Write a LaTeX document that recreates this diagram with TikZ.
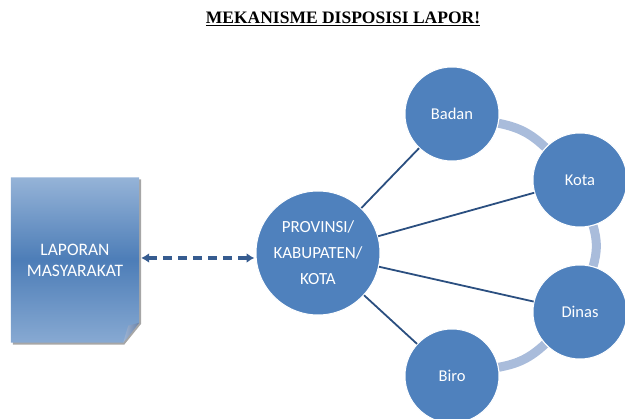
\documentclass[tikz,border=0pt]{standalone}
\usepackage{fontspec}
\setmainfont{Liberation Serif}
\setsansfont{Carlito}
\usepackage{tikz}
\usetikzlibrary{arrows.meta,backgrounds}
\definecolor{bulat}{HTML}{4F81BD}
\definecolor{garis}{HTML}{2B4F80}
\definecolor{cincin}{HTML}{A9BCDB}
\definecolor{panah}{HTML}{365C90}
\definecolor{lipat}{HTML}{7E9BC6}
\tikzset{
  unit/.style={circle, fill=bulat, draw=white, line width=1pt, minimum size=94pt,
    inner sep=0pt, text=white, font=\sffamily\fontsize{16.5}{19}\selectfont},
  hubung/.style={draw=garis, line width=1.8pt},
  cincinan/.style={draw=cincin, line width=9pt}
}

\begin{document}
\begin{tikzpicture}[x=1pt, y=-1pt]
\useasboundingbox (0,0) rectangle (625,419);
\node (judul) at (343,19) {\fontsize{17.5}{20}\selectfont\bfseries\underline{MEKANISME DISPOSISI LAPOR!}};

% dokumen laporan
\node[minimum width=128pt, minimum height=165pt, inner sep=0pt, text=white, align=center,
  font=\sffamily\fontsize{17.5}{21}\selectfont] (laporan) at (75,260) {LAPORAN\\MASYARAKAT};
\begin{pgfonlayer}{background}
\fill[black!35] ([shift={(2,2)}]laporan.north west) -- ([shift={(2,2)}]laporan.north east)
  -- ([shift={(2,-19)}]laporan.south east) -- ([shift={(-15,2)}]laporan.south east)
  -- ([shift={(2,2)}]laporan.south west) -- cycle;
\shade[top color=bulat!60, bottom color=bulat!68, middle color=bulat!97!black]
  (laporan.north west) -- (laporan.north east) -- ([yshift=20]laporan.south east)
  -- ([xshift=-16]laporan.south east) -- (laporan.south west) -- cycle;
\shade[left color=lipat!75!white, right color=lipat!85!black]
  ([yshift=20]laporan.south east) -- ([xshift=-16]laporan.south east)
  -- ([shift={(-11,-17)}]laporan.south east) -- cycle;
\end{pgfonlayer}

% pusat dan unit
\node[unit, minimum size=124pt, font=\sffamily\fontsize{17}{26}\selectfont, align=center]
  (pusat) at (318,253) {PROVINSI/\\KABUPATEN/\\KOTA};
\node[unit] (badan) at (452,114) {Badan};
\node[unit] (kota) at (580,180) {Kota};
\node[unit] (dinas) at (580,312) {Dinas};
\node[unit] (biro) at (452,376) {Biro};

\begin{pgfonlayer}{background}
\path[cincinan] (badan) to[bend left=16] (kota);
\path[cincinan] (kota) to[bend left=16] (dinas);
\path[cincinan] (dinas) to[bend left=16] (biro);
\end{pgfonlayer}

\foreach \u in {badan,kota,dinas,biro}
  \path[hubung] (pusat) -- (\u);

\draw[panah, line width=3.2pt, dash pattern=on 9pt off 6pt,
  {Latex[length=8pt,width=10pt]}-{Latex[length=8pt,width=10pt]}]
  ([xshift=2pt]laporan.east |- 0,258) -- ([xshift=-1pt]pusat.west |- 0,258);
\end{tikzpicture}
\end{document}
